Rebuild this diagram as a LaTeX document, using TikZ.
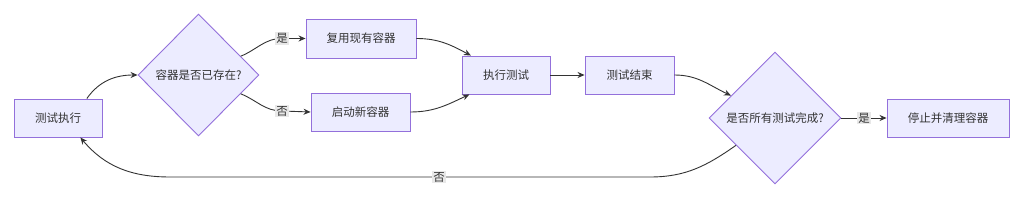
\documentclass[tikz,border=0pt]{standalone}
\usepackage{fontspec}
\setmainfont{Noto Sans CJK SC}
\usetikzlibrary{shapes.geometric,arrows.meta}
\definecolor{nodefill}{HTML}{ECECFF}
\definecolor{nodeline}{HTML}{9370DB}
\definecolor{edgecol}{HTML}{333333}
\definecolor{lblbg}{HTML}{E8E8E8}
\begin{document}
\begin{tikzpicture}[x=1pt,y=1pt,
  font=\fontsize{11.5}{13}\selectfont,
  box/.style={draw=nodeline,fill=nodefill,line width=0.9pt,text=edgecol,inner sep=0pt,minimum height=38pt},
  dia/.style={diamond,aspect=1,draw=nodeline,fill=nodefill,line width=0.9pt,text=edgecol,inner sep=1pt},
  arr/.style={draw=edgecol,line width=0.9pt,-{Stealth[length=7pt,width=6pt]}},
  lbl/.style={fill=lblbg,text=edgecol,inner sep=1pt}]
\useasboundingbox (0,0) rectangle (1024,200);
\fill[white] (0,0) rectangle (1024,200);
\node[box,minimum width=88pt] (a) at (58,82) {测试执行};
\node[dia,minimum width=121pt,minimum height=122pt] (d1) at (198.5,125) {容器是否已存在?};
\node[box,minimum width=110pt,minimum height=39pt] (b) at (361,161.5) {复用现有容器};
\node[box,minimum width=99pt] (c) at (360.5,88) {启动新容器};
\node[box,minimum width=88pt] (e) at (506,125) {执行测试};
\node[box,minimum width=89pt] (f) at (629.5,125) {测试结束};
\node[dia,minimum width=132pt,minimum height=132pt] (d2) at (775,82) {是否所有测试完成?};
\node[box,minimum width=122pt] (g) at (948,82) {停止并清理容器};
\coordinate (yes1) at (282,161.5);
\coordinate (no1) at (282,89);
\coordinate (no2) at (439,23);
\draw[arr] (a.34) to[out=55,in=180] (d1.west);
\draw[arr] (d1.24) to[out=22,in=180] (yes1) -- (b.west);
\draw[arr] (d1.-24) to[out=-22,in=180] (no1) -- (c.west);
\draw[arr] (b.east) to[out=0,in=152] (e.151);
\draw[arr] (c.east) to[out=0,in=205] (e.208);
\draw[arr] (e.east) -- (f.west);
\draw[arr] (f.east) to[out=0,in=155] (d2.153);
\draw[arr] (d2.east) -- node[lbl]{是} (g.west);
\draw[arr] (d2.215) to[out=215,in=0] (650,23) -- (no2) -- (170,23) to[out=180,in=-50] (a.-41);
\node[lbl] at (yes1) {是};
\node[lbl] at (no1) {否};
\node[lbl] at (no2) {否};
\end{tikzpicture}
\end{document}
